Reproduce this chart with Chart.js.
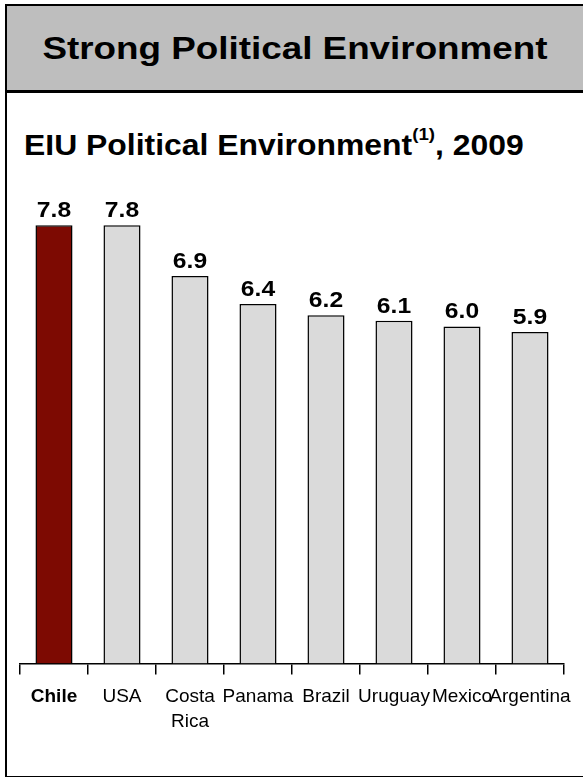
<!DOCTYPE html>
<html>
<head>
<meta charset="utf-8">
<script src="https://cdn.jsdelivr.net/npm/chart.js@4/dist/chart.umd.min.js"></script>
<style>
  html, body { margin: 0; padding: 0; background: #ffffff; }
  body { width: 583px; height: 777px; position: relative; overflow: hidden;
         font-family: "Liberation Sans", Arial, Helvetica, sans-serif; }
  .frame { position: absolute; left: 5px; top: 4px; width: 576px; height: 770px;
           border: 2px solid #000; box-sizing: content-box; }
  .header { position: absolute; left: 0; top: 0; right: 0; height: 84px;
            background: #bebebe; border-bottom: 3px solid #000; }
  .header-text { position: absolute; left: 0; right: 0; top: 23px; text-align: center;
                 font-weight: bold; font-size: 32px; line-height: 38px; color: #000;
                 transform: scaleX(1.15); transform-origin: 50% 50%; white-space: nowrap; }
  .subtitle { position: absolute; left: 17px; top: 122px; font-weight: bold; font-size: 29px;
              line-height: 35px; color: #000; white-space: nowrap;
              transform: scaleX(1.1); transform-origin: 0 50%; }
  .subtitle sup { font-size: 17px; position: relative; top: -3px; vertical-align: top; line-height: 20px; }
  #wrap { position: absolute; left: 0; top: 170px; width: 583px; height: 607px; }
</style>
</head>
<body>
<div class="frame">
  <div class="header"><div class="header-text">Strong Political Environment</div></div>
  <div class="subtitle">EIU Political Environment<sup>(1)</sup>, 2009</div>
</div>
<div id="wrap"><canvas id="c" width="583" height="607"></canvas></div>
<script>
// EIU political environment scores, 2009
const countries = ["Chile", "USA", ["Costa", "Rica"], "Panama", "Brazil", "Uruguay", "Mexico", "Argentina"];
const scores = [7.8, 7.8, 6.9, 6.4, 6.2, 6.1, 6.0, 5.9];
const highlightCountry = "Chile";

const FONT = '"Liberation Sans", Arial, Helvetica, sans-serif';
const fills = countries.map(c => c === highlightCountry ? '#7d0a02' : '#dadada');

// Bold value printed above each bar
const valueLabels = {
  id: 'valueLabels',
  afterDatasetsDraw(chart) {
    const ctx = chart.ctx;
    const meta = chart.getDatasetMeta(0);
    ctx.save();
    ctx.fillStyle = '#000';
    ctx.font = 'bold 22px ' + FONT;
    ctx.textAlign = 'center';
    ctx.textBaseline = 'alphabetic';
    meta.data.forEach((bar, i) => {
      const v = chart.data.datasets[0].data[i];
      ctx.save();
      ctx.translate(bar.x, bar.y - 8);
      ctx.scale(1.12, 1);
      ctx.fillText(v.toFixed(1), 0, 0);
      ctx.restore();
    });
    ctx.restore();
  }
};

new Chart(document.getElementById('c'), {
  type: 'bar',
  data: {
    labels: countries,
    datasets: [{
      data: scores,
      backgroundColor: fills,
      borderColor: '#000',
      borderWidth: 1.5,
      borderSkipped: 'bottom',
      barPercentage: 0.545,
      categoryPercentage: 1.0
    }]
  },
  options: {
    responsive: false,
    animation: false,
    devicePixelRatio: 1,
    layout: { padding: { left: 20, right: 19, top: 16, bottom: 33 } },
    plugins: { legend: { display: false }, tooltip: { enabled: false } },
    scales: {
      y: { display: false, min: 0, max: 8.5 },
      x: {
        offset: true,
        border: { display: true, color: '#000', width: 1.5 },
        grid: { offset: true, drawOnChartArea: false, drawTicks: true, tickLength: 11, color: '#000', lineWidth: 1.5 },
        ticks: {
          autoSkip: false, maxRotation: 0, minRotation: 0, padding: 10, color: '#000',
          font: (ctx) => ({ family: FONT, size: 19, weight: ctx.index === 0 ? 'bold' : 'normal', lineHeight: 1.3 })
        }
      }
    }
  },
  plugins: [valueLabels]
});
</script>
</body>
</html>
